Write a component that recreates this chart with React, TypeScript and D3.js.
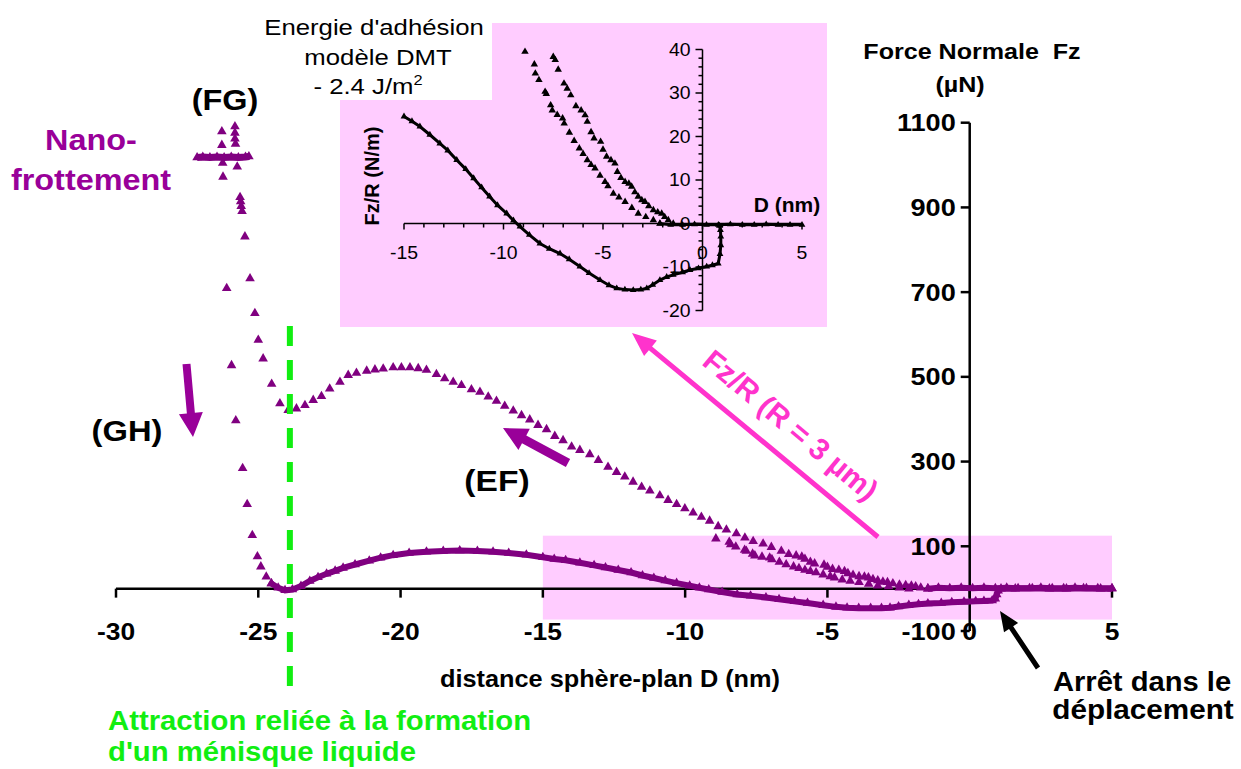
import React from "react";
import * as d3 from "d3";

type P = [number, number];

// ---------------- main chart : D (nm) vs Fz (µN) ----------------
const xTickValues = [-30, -25, -20, -15, -10, -5, 0, 5];
const yTickValues = [-100, 100, 300, 500, 700, 900, 1100];

// (EF) loading curve, then approach baseline
const loadingEF: P[] = [
  [-23.95, 421], [-23.66, 425], [-23.36, 433], [-23.07, 445], [-22.78, 454], [-22.49, 472],
  [-22.13, 488], [-21.84, 504], [-21.55, 509], [-21.19, 514], [-20.9, 517], [-20.61, 519],
  [-20.26, 522], [-19.97, 522], [-19.67, 522], [-19.38, 520], [-19.09, 516], [-18.74, 506],
  [-18.45, 496], [-18.15, 488], [-17.86, 480], [-17.51, 470], [-17.21, 464], [-16.92, 453],
  [-16.63, 443], [-16.34, 431], [-16.04, 420], [-15.75, 409], [-15.46, 399], [-15.17, 386],
  [-14.87, 376], [-14.58, 360], [-14.29, 350], [-13.99, 335], [-13.7, 327], [-13.35, 317],
  [-13.05, 303], [-12.71, 287], [-12.41, 275], [-12.12, 264], [-11.83, 252], [-11.53, 240],
  [-11.24, 231], [-10.89, 220], [-10.6, 209], [-10.3, 199], [-10.01, 189], [-9.72, 179],
  [-9.43, 169], [-9.14, 160], [-8.84, 147], [-8.55, 139], [-8.2, 130], [-7.9, 120],
  [-7.61, 112], [-7.26, 106], [-6.97, 98], [-6.62, 89], [-6.36, 81], [-6.1, 78], [-5.9, 75],
  [-5.79, 70], [-5.6, 63], [-5.45, 59], [-5.12, 56], [-5.0, 51], [-4.82, 46], [-4.6, 44],
  [-4.4, 41], [-4.28, 36], [-4.1, 32], [-3.89, 29], [-3.7, 28], [-3.56, 26], [-3.4, 22],
  [-3.23, 19], [-3.05, 16], [-2.89, 15], [-2.7, 12], [-2.47, 9], [-2.25, 8], [-2.05, 7],
  [-1.9, 5], [-1.72, 2], [-1.47, 0],
];
const approachFlat: P[] = [
  [-1.47, 0], [-1.1, 2], [-0.7, 1], [-0.3, 2], [0.1, 1], [0.5, 2], [0.9, 1], [1.3, 2],
  [1.7, 1], [2.1, 1], [2.5, 2], [2.9, 1], [3.3, 1], [3.7, 2], [4.1, 1], [4.5, 1], [5.0, 1],
];
// second repulsive branch
const secondBranch: P[] = [
  [-8.92, 118], [-8.45, 110], [-8.4, 104], [-8.22, 99], [-7.91, 91], [-7.85, 89], [-7.63, 82],
  [-7.55, 78], [-7.3, 75], [-7.03, 73], [-6.95, 69], [-6.69, 63], [-6.45, 57], [-6.19, 52],
  [-6.0, 48], [-5.79, 44], [-5.6, 41], [-5.4, 38], [-5.15, 33], [-4.9, 29], [-4.75, 26],
  [-4.48, 21], [-4.2, 18], [-3.89, 15], [-3.55, 11], [-3.23, 7], [-2.85, 5], [-2.47, 2], [-2.14, 0],
];
// (FG) rise
const risingFG: P[] = [
  [-24.24, 437], [-24.53, 483], [-24.83, 543], [-25.0, 587], [-25.12, 650], [-25.29, 732],
  [-25.47, 831], [-25.57, 891], [-25.6, 903], [-25.62, 914], [-25.64, 924], [-25.74, 996],
  [-25.8, 1050], [-25.82, 1062], [-25.82, 1076], [-25.82, 1091],
];
// nano-friction plateau
const frictionBar: P[] = [
  [-27.15, 1018], [-26.95, 1019], [-26.7, 1018], [-26.45, 1019], [-26.2, 1018],
  [-25.95, 1019], [-25.7, 1018], [-25.45, 1019], [-25.33, 1020],
];
// (GH) drop
const fallingGH: P[] = [
  [-26.28, 1079], [-26.28, 1047], [-26.25, 1005], [-26.24, 972], [-26.11, 709], [-25.94, 527],
  [-25.79, 397], [-25.55, 284], [-25.39, 199], [-25.21, 126], [-25.03, 76], [-24.91, 52],
  [-24.72, 28], [-24.54, 12],
];
// unloading / retraction
const retraction: P[] = [
  [-24.54, 12], [-24.3, 2], [-24.06, -4], [-23.8, -2], [-23.5, 6], [-23.19, 18], [-22.9, 27],
  [-22.6, 35], [-22.3, 42], [-22.02, 49], [-21.6, 57], [-21.1, 66], [-20.7, 73], [-20.26, 79],
  [-19.7, 84], [-19.09, 87], [-18.5, 89], [-17.92, 90], [-17.3, 89], [-16.75, 87], [-16.2, 84],
  [-15.58, 80], [-15.0, 74], [-14.6, 70], [-14.2, 67], [-13.7, 61], [-13.2, 55], [-12.8, 50],
  [-12.35, 44], [-11.9, 38], [-11.5, 31], [-11.1, 25], [-10.7, 19], [-10.3, 13], [-9.84, 7],
  [-9.5, 2], [-9.17, -2], [-8.7, -8], [-8.17, -14], [-7.7, -17], [-7.16, -21], [-6.7, -25],
  [-6.16, -30], [-5.7, -34], [-5.15, -39], [-4.7, -43], [-4.31, -45], [-3.9, -46], [-3.48, -46],
  [-3.1, -46], [-2.8, -45], [-2.5, -42], [-2.14, -39], [-1.8, -37], [-1.47, -35], [-1.0, -34],
  [-0.63, -32], [-0.2, -31], [0.21, -30], [0.5, -29], [0.79, -28], [0.9, -24], [0.95, -14],
  [1.0, -5], [1.1, 0], [1.6, 0], [2.2, 1], [2.8, 0], [3.4, 0], [4.0, 1], [4.6, 0], [5.0, 0],
];

// ---------------- inset : D (nm) vs Fz/R (N/m) ----------------
const insetXTicks = [-15, -10, -5, 0, 5];
const insetYTicks = [-20, -10, 0, 10, 20, 30, 40];

const insetLoading: P[] = [
  [-7.5, 38.3], [-7.4, 37.6], [-7.25, 35.4], [-6.96, 32.2], [-6.8, 31], [-6.62, 29.5],
  [-6.36, 27], [-6.1, 26], [-5.9, 24.9], [-5.79, 23.4], [-5.6, 21], [-5.45, 19.6], [-5.12, 18.8],
  [-5.0, 17], [-4.82, 15.4], [-4.6, 14.6], [-4.4, 13.8], [-4.28, 11.9], [-4.1, 10.5], [-3.89, 9.6],
  [-3.7, 9.2], [-3.56, 8.5], [-3.4, 7.2], [-3.23, 6.2], [-3.05, 5.4], [-2.89, 5], [-2.7, 4],
  [-2.47, 3.1], [-2.25, 2.6], [-2.05, 2.3], [-1.9, 1.5], [-1.72, 0.8], [-1.47, 0],
];
const insetSecond: P[] = [
  [-8.92, 39.5], [-8.45, 36.6], [-8.4, 34.5], [-8.22, 33], [-7.91, 30.3], [-7.85, 29.8],
  [-7.63, 27.2], [-7.55, 26], [-7.3, 25], [-7.03, 24.2], [-6.95, 23], [-6.69, 20.9], [-6.45, 19],
  [-6.19, 17.3], [-6.0, 16], [-5.79, 14.6], [-5.6, 13.5], [-5.4, 12.7], [-5.15, 11], [-4.9, 9.6],
  [-4.75, 8.6], [-4.48, 6.9], [-4.2, 6], [-3.89, 5], [-3.55, 3.6], [-3.23, 2.3], [-2.85, 1.5],
  [-2.47, 0.8], [-2.14, 0],
];
const insetFlat: P[] = [
  [-2.14, 0], [-1.6, -0.3], [-1.0, -0.3], [-0.4, -0.2], [0.2, -0.3], [0.8, -0.3], [1.4, -0.2],
  [2.0, -0.3], [2.6, -0.3], [3.2, -0.2], [3.8, -0.3], [4.4, -0.3], [5.0, -0.3],
];
const insetRetraction: P[] = [
  [-15, 24.6], [-14.6, 23.5], [-14.2, 22.3], [-13.7, 20.4], [-13.2, 18.4], [-12.8, 16.8],
  [-12.35, 14.6], [-11.9, 12.5], [-11.5, 10.4], [-11.1, 8.3], [-10.7, 6.2], [-10.3, 4.2],
  [-9.84, 2.3], [-9.5, 0.7], [-9.17, -0.7], [-8.7, -2.6], [-8.17, -4.6], [-7.7, -5.8],
  [-7.16, -6.9], [-6.7, -8.2], [-6.16, -9.9], [-5.7, -11.4], [-5.15, -13], [-4.7, -14.2],
  [-4.31, -14.9], [-3.9, -15.2], [-3.48, -15.3], [-3.1, -15.2], [-2.8, -14.9], [-2.5, -14.1],
  [-2.14, -13], [-1.8, -12.3], [-1.47, -11.8], [-1.0, -11.2], [-0.63, -10.7], [-0.2, -10.3],
  [0.21, -9.9], [0.5, -9.6], [0.79, -9.2], [0.88, -7], [0.92, -5], [0.92, -3], [0.9, -1.5],
  [0.85, -0.5],
];

// ---------------- layout ----------------
const W = 1241;
const H = 769;
const FONT = "'Liberation Sans', Arial, Helvetica, sans-serif";
const PURPLE = "#800080";
const ARROW_PURPLE = "#990099";
const PINK = "#ff33cc";
const BAND = "#ffccff";
const GREEN = "#11ee11";

const x = d3.scaleLinear().domain([-30, 5]).range([116, 1112]);
const y = d3.scaleLinear().domain([-100, 1100]).range([631, 122.7]);
const xi = d3.scaleLinear().domain([-15, 5]).range([404, 802]);
const yi = d3.scaleLinear().domain([-20, 40]).range([310.5, 49.5]);

const triMain = d3.symbol(d3.symbolTriangle, 40)() as string;
const triInset = d3.symbol(d3.symbolTriangle, 24)() as string;
const triSmall = d3.symbol(d3.symbolTriangle, 20)() as string;

const mainLine = d3.line<P>().x((d) => x(d[0])).y((d) => y(d[1]));
const insetLine = d3.line<P>().x((d) => xi(d[0])).y((d) => yi(d[1]));

function arrow(x1: number, y1: number, x2: number, y2: number, w: number, hl: number, hw: number) {
  const dx = x2 - x1, dy = y2 - y1;
  const L = Math.hypot(dx, dy);
  const ux = dx / L, uy = dy / L;
  const px = -uy, py = ux;
  const bx = x2 - ux * hl, by = y2 - uy * hl;
  const pts = [
    [x1 + (px * w) / 2, y1 + (py * w) / 2],
    [bx + (px * w) / 2, by + (py * w) / 2],
    [bx + (px * hw) / 2, by + (py * hw) / 2],
    [x2, y2],
    [bx - (px * hw) / 2, by - (py * hw) / 2],
    [bx - (px * w) / 2, by - (py * w) / 2],
    [x1 - (px * w) / 2, y1 - (py * w) / 2],
  ];
  return pts.map((p) => p.join(",")).join(" ");
}

function Markers({ data, sx, sy, path, fill }: { data: P[]; sx: any; sy: any; path: string; fill: string }) {
  return (
    <g fill={fill}>
      {data.map((d, i) => (
        <path key={i} d={path} transform={`translate(${sx(d[0])},${sy(d[1])})`} />
      ))}
    </g>
  );
}

// horizontally stretched text (the original figure is widened)
function T({ x: tx, y: ty, s = 1.12, children, ...rest }: any) {
  return (
    <text transform={`translate(${tx},${ty}) scale(${s},1)`} {...rest}>
      {children}
    </text>
  );
}

export default function App() {
  const insetMinorX = d3.range(-15, 5.01, 1);
  const insetMinorY = d3.range(-20, 40.01, 2);
  const pinkAngle = (Math.atan2(537 - 333, 878 - 632) * 180) / Math.PI;
  return (
    <svg
      width={W}
      height={H}
      viewBox={`0 0 ${W} ${H}`}
      style={{ position: "absolute", left: 0, top: 0, background: "#fff" }}
      fontFamily={FONT}
    >
      <rect x={0} y={0} width={W} height={H} fill="#fff" />

      {/* pink band marking the inset range */}
      <rect x={x(-15)} y={y(125)} width={x(5) - x(-15)} height={y(-73) - y(125)} fill={BAND} />

      {/* ---------------- inset ---------------- */}
      <rect x={340} y={23} width={487} height={304} fill={BAND} />
      <rect x={255} y={0} width={237} height={100} fill="#fff" />
      <g fill="#000" fontSize={22} textAnchor="middle">
        <T x={374} y={35} s={1.17}>Energie d'adhésion</T>
        <T x={378} y={65} s={1.17}>modèle DMT</T>
        <T x={368} y={94} s={1.17}>
          - 2.4 J/m<tspan dy={-9} fontSize={14}>2</tspan>
        </T>
      </g>
      {/* inset axes */}
      <g stroke="#000" strokeWidth={1.5}>
        <line x1={xi(-15)} x2={xi(5)} y1={yi(0)} y2={yi(0)} />
        <line x1={xi(0)} x2={xi(0)} y1={yi(40)} y2={yi(-20)} />
        {insetMinorX.map((t) => (
          <line key={"ix" + t} x1={xi(t)} x2={xi(t)} y1={yi(0)} y2={yi(0) + (t % 5 === 0 ? 6 : 4)} />
        ))}
        {insetMinorY.map((t) => (
          <line key={"iy" + t} x1={xi(0) - (t % 10 === 0 ? 7 : 4)} x2={xi(0)} y1={yi(t)} y2={yi(t)} />
        ))}
      </g>
      <g fontSize={18} fill="#000">
        {insetXTicks.map((t) => (
          <T key={"ixl" + t} x={xi(t)} y={yi(0) + 35} s={1.08} textAnchor="middle">
            {t}
          </T>
        ))}
        {insetYTicks.map((t) => (
          <T key={"iyl" + t} x={xi(0) - 12} y={yi(t) + 6} s={1.08} textAnchor="end">
            {t}
          </T>
        ))}
      </g>
      <T x={787} y={212} s={1.05} fontSize={20} fontWeight="bold" textAnchor="middle">
        D (nm)
      </T>
      <text
        transform={`translate(379,176) rotate(-90)`}
        fontSize={20}
        fontWeight="bold"
        textAnchor="middle"
      >
        Fz/R (N/m)
      </text>
      {/* inset data */}
      <path d={insetLine(insetRetraction) as string} fill="none" stroke="#000" strokeWidth={3} />
      <path d={insetLine(insetFlat) as string} fill="none" stroke="#000" strokeWidth={3} />
      <Markers data={insetRetraction} sx={xi} sy={yi} path={triSmall} fill="#000" />
      <Markers data={insetFlat} sx={xi} sy={yi} path={triSmall} fill="#000" />
      <Markers data={insetLoading} sx={xi} sy={yi} path={triInset} fill="#000" />
      <Markers data={insetSecond} sx={xi} sy={yi} path={triInset} fill="#000" />

      {/* ---------------- main axes ---------------- */}
      <g stroke="#000" strokeWidth={2.5}>
        <line x1={x(-30)} x2={x(5)} y1={y(0)} y2={y(0)} />
        {xTickValues.map((t) => (
          <line key={"xt" + t} x1={x(t)} x2={x(t)} y1={y(0)} y2={y(0) + 9} />
        ))}
        <line x1={x(0)} x2={x(0)} y1={y(1100)} y2={y(-100)} />
        {yTickValues.map((t) => (
          <line key={"yt" + t} x1={x(0) - 9} x2={x(0)} y1={y(t)} y2={y(t)} />
        ))}
      </g>
      <g fontSize={24} fontWeight="bold" fill="#000">
        {xTickValues.map((t) => (
          <T key={"xl" + t} x={x(t)} y={640} s={1.1} textAnchor="middle">
            {t}
          </T>
        ))}
        {yTickValues.map((t) => (
          <T key={"yl" + t} x={x(0) - 14} y={y(t) + 8.5} s={1.13} textAnchor="end">
            {t}
          </T>
        ))}
      </g>
      <g fontWeight="bold" fill="#000" textAnchor="middle">
        <T x={972} y={59} s={1.14} fontSize={22}>
          Force Normale{"\u00a0\u00a0"}Fz
        </T>
        <T x={960} y={92} s={1.14} fontSize={22}>(µN)</T>
        <T x={610} y={687} s={1.1} fontSize={23}>distance sphère-plan D (nm)</T>
      </g>

      {/* ---------------- main data ---------------- */}
      <path d={mainLine(retraction) as string} fill="none" stroke={PURPLE} strokeWidth={6} />
      <path d={mainLine(approachFlat) as string} fill="none" stroke={PURPLE} strokeWidth={6} />
      <path d={mainLine(frictionBar) as string} fill="none" stroke={PURPLE} strokeWidth={7} />
      <Markers data={retraction} sx={x} sy={y} path={triMain} fill={PURPLE} />
      <Markers data={approachFlat} sx={x} sy={y} path={triMain} fill={PURPLE} />
      <Markers data={frictionBar} sx={x} sy={y} path={triMain} fill={PURPLE} />
      <Markers data={loadingEF} sx={x} sy={y} path={triMain} fill={PURPLE} />
      <Markers data={secondBranch} sx={x} sy={y} path={triMain} fill={PURPLE} />
      <Markers data={risingFG} sx={x} sy={y} path={triMain} fill={PURPLE} />
      <Markers data={fallingGH} sx={x} sy={y} path={triMain} fill={PURPLE} />

      {/* ---------------- annotations ---------------- */}
      <line x1={x(-23.89)} x2={x(-23.89)} y1={326} y2={695} stroke={GREEN} strokeWidth={6} strokeDasharray="20 14" />
      <g fill={GREEN} fontSize={27} fontWeight="bold">
        <T x={108} y={730} s={1.085}>Attraction reliée à la formation</T>
        <T x={108} y={761} s={1.085}>d'un ménisque liquide</T>
      </g>

      <g fontSize={30} fontWeight="bold" fill="#000" textAnchor="middle">
        <T x={225} y={110} s={1.08}>(FG)</T>
        <T x={127} y={441} s={1.09}>(GH)</T>
        <T x={497} y={491} s={1.12}>(EF)</T>
      </g>
      <g fontSize={30} fontWeight="bold" fill={ARROW_PURPLE} textAnchor="middle">
        <T x={91} y={150} s={1.08}>Nano-</T>
        <T x={91} y={190} s={1.08}>frottement</T>
      </g>

      <polygon points={arrow(186.5, 364, 193, 437, 8, 24, 24)} fill={ARROW_PURPLE} />
      <polygon points={arrow(568, 463, 503, 428, 9, 24, 24)} fill={ARROW_PURPLE} />

      <polygon points={arrow(878, 537, 632, 333, 5, 24, 20)} fill={PINK} />
      <text
        transform={`translate(784,433) rotate(${pinkAngle})`}
        fontSize={30}
        fontWeight="bold"
        fill={PINK}
        textAnchor="middle"
      >
        Fz/R (R = 3 µm)
      </text>

      <polygon points={arrow(1038, 668, 1000, 611, 5, 20, 17)} fill="#000" />
      <g fontSize={27} fontWeight="bold" fill="#000" textAnchor="middle">
        <T x={1142} y={691} s={1.08}>Arrêt dans le</T>
        <T x={1143} y={719} s={1.1}>déplacement</T>
      </g>
    </svg>
  );
}
